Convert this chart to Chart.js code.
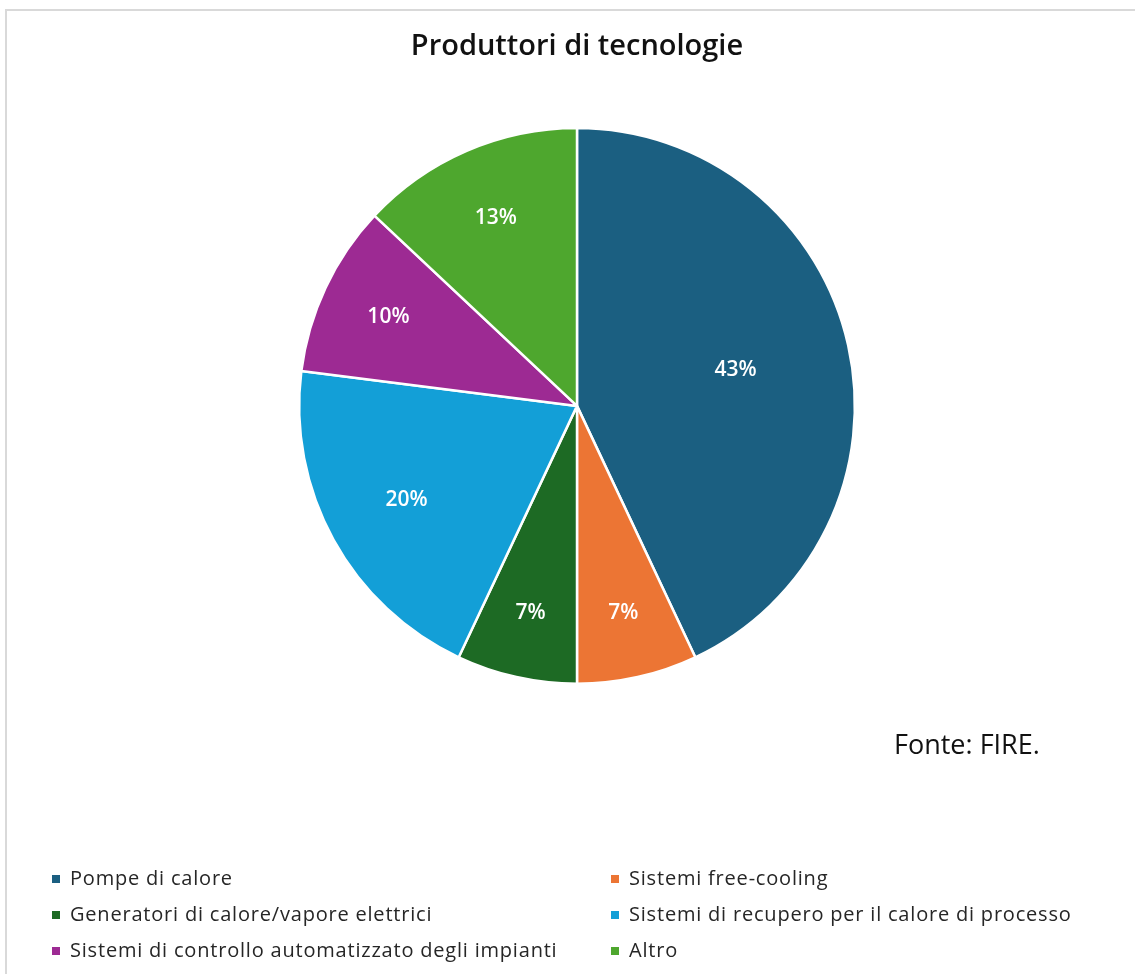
<!DOCTYPE html>
<html lang="it">
<head>
<meta charset="utf-8">
<title>Produttori di tecnologie</title>
<script src="https://cdn.jsdelivr.net/npm/chart.js@4.4.1/dist/chart.umd.min.js"></script>
<style>
    html, body { margin: 0; padding: 0; background: #fff; }
    #wrap { position: relative; width: 1135px; height: 974px; overflow: hidden; }
    #frame {
        position: absolute; left: 5px; top: 9px; width: 1200px; height: 1100px;
        border-top: 2px solid #d9d9d9; border-left: 2px solid #d9d9d9;
    }
    #chart { position: absolute; left: 0; top: 0; }
</style>
</head>
<body>
<div id="wrap">
    <div id="frame"></div>
    <canvas id="chart" width="1135" height="974"></canvas>
</div>
<script>
const labels = [
    "Pompe di calore",
    "Sistemi free-cooling",
    "Generatori di calore/vapore elettrici",
    "Sistemi di recupero per il calore di processo",
    "Sistemi di controllo automatizzato degli impianti",
    "Altro"
];
const shares = [43, 7, 7, 20, 10, 13];
const colors = ["#1b5f81", "#ec7534", "#1d6a24", "#139fd7", "#9d2a93", "#4ea72e"];

const titleText = "Produttori di tecnologie";
const sourceText = "Fonte: FIRE.";

// percent labels inside each slice, smaller slices pushed further out
const sliceLabels = {
    id: "sliceLabels",
    afterDatasetsDraw(chart) {
        const ctx = chart.ctx;
        const meta = chart.getDatasetMeta(0);
        ctx.save();
        ctx.fillStyle = "#ffffff";
        ctx.font = "600 21px 'Open Sans', sans-serif";
        ctx.textAlign = "center";
        ctx.textBaseline = "middle";
        meta.data.forEach((arc, i) => {
            const p = arc.getProps(["x", "y", "startAngle", "endAngle", "outerRadius"]);
            const mid = (p.startAngle + p.endAngle) / 2;
            const r = p.outerRadius * (0.8 - shares[i] / 200);
            ctx.fillText(shares[i] + "%", p.x + Math.cos(mid) * r, p.y + Math.sin(mid) * r);
        });
        ctx.restore();
    }
};

// two-column legend under the pie, plus the source note
const bottomLegend = {
    id: "bottomLegend",
    afterDraw(chart) {
        const ctx = chart.ctx;
        const ds = chart.data.datasets[0];
        const colX = [52, 611];
        const rowY = [879, 915, 951];
        ctx.save();
        ctx.font = "20px 'Open Sans', sans-serif";
        ctx.letterSpacing = "0.8px";
        ctx.textBaseline = "middle";
        ctx.textAlign = "left";
        chart.data.labels.forEach((lab, i) => {
            const x = colX[i % 2];
            const y = rowY[Math.floor(i / 2)];
            ctx.fillStyle = ds.backgroundColor[i];
            ctx.fillRect(x, y - 4, 8, 8);
            ctx.fillStyle = "#262626";
            ctx.fillText(lab, x + 18, y);
        });
        ctx.letterSpacing = "0px";
        ctx.font = "27px 'Open Sans', sans-serif";
        ctx.fillStyle = "#111111";
        ctx.fillText(sourceText, 894, 746);
        ctx.restore();
    }
};

new Chart(document.getElementById("chart"), {
    type: "pie",
    data: {
        labels: labels,
        datasets: [{
            data: shares,
            backgroundColor: colors,
            borderColor: "#ffffff",
            borderWidth: 2.5
        }]
    },
    options: {
        responsive: false,
        animation: false,
        layout: { padding: { left: 297, right: 278, top: 0, bottom: 289 } },
        plugins: {
            legend: { display: false },
            tooltip: { enabled: false },
            title: {
                display: true,
                text: titleText,
                color: "#111111",
                font: { family: "'Open Sans', sans-serif", size: 29, weight: "600", lineHeight: 1.2 },
                padding: { top: 29, bottom: 63 }
            }
        }
    },
    plugins: [sliceLabels, bottomLegend]
});
</script>
</body>
</html>
